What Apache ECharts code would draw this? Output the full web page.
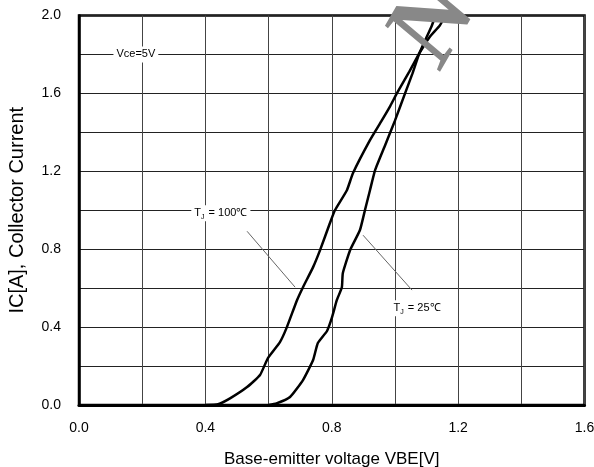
<!DOCTYPE html>
<html><head><meta charset="utf-8">
<script src="https://cdn.jsdelivr.net/npm/echarts@6/dist/echarts.min.js"></script>
<style>html,body{margin:0;padding:0;background:#fff}#c{width:594px;height:467px}</style>
</head><body><div id="c"></div>
<script>
var xTicks = [0, 0.4, 0.8, 1.2, 1.6];
var yTicks = [0, 0.4, 0.8, 1.2, 1.6, 2.0];
var tj100 = [[0.40,0],[0.44,0.004],[0.478,0.034],[0.532,0.092],[0.573,0.154],[0.598,0.241],[0.636,0.323],[0.658,0.40],[0.690,0.538],[0.709,0.605],[0.741,0.708],[0.763,0.795],[0.794,0.933],[0.810,1.0],[0.848,1.103],[0.867,1.19],[0.921,1.36],[0.958,1.46],[0.985,1.535],[1.006,1.6],[1.045,1.71],[1.077,1.805],[1.11,1.89],[1.142,1.949],[1.16,2.0]];
var tj25 = [[0.60,0],[0.625,0.008],[0.668,0.041],[0.709,0.128],[0.741,0.231],[0.756,0.318],[0.785,0.38],[0.801,0.451],[0.816,0.538],[0.832,0.605],[0.835,0.677],[0.858,0.795],[0.889,0.897],[0.905,1.0],[0.921,1.103],[0.937,1.205],[0.968,1.33],[1.0,1.46],[1.032,1.6],[1.055,1.70],[1.077,1.805],[1.117,1.949],[1.128,2.0]];
var seriesNames = ['TJ = 100℃', 'TJ = 25℃'];
var condition = 'Vce=5V';

var chart = echarts.init(document.getElementById('c'));
var F = '"Liberation Sans", Arial, sans-serif';
function lbl(v){ var r = Math.round(v*10); return (r % 4 === 0) ? v.toFixed(1) : ''; }
chart.setOption({
  animation: false,
  backgroundColor: '#fff',
  grid: {left: 79, right: 9.5, top: 15.5, bottom: 62, containLabel: false, outerBoundsMode: 'none', show: true, borderColor: '#000', borderWidth: 2.5, backgroundColor: 'transparent'},
  xAxis: {type: 'value', min: 0, max: 1.6, interval: 0.2,
    name: 'Base-emitter voltage VBE[V]', nameLocation: 'middle', nameGap: 46,
    nameTextStyle: {fontFamily: F, fontSize: 17, color: '#000'},
    axisLine: {show: true, onZero: false, lineStyle: {color: '#000', width: 3}},
    axisTick: {show: false},
    axisLabel: {formatter: lbl, fontFamily: F, fontSize: 14, color: '#000', margin: 16},
    splitLine: {show: true, lineStyle: {color: '#444', width: 1}}},
  yAxis: {type: 'value', min: 0, max: 2.0, interval: 0.2,
    name: 'IC[A], Collector Current', nameLocation: 'middle', nameGap: 52,
    nameTextStyle: {fontFamily: F, fontSize: 20, color: '#000'},
    axisLine: {show: true, lineStyle: {color: '#000', width: 2.5}},
    axisTick: {show: false},
    axisLabel: {formatter: lbl, fontFamily: F, fontSize: 14, color: '#000', margin: 18},
    splitLine: {show: true, lineStyle: {color: '#222', width: 1}}},
  series: [
    {name: seriesNames[0], type: 'line', data: tj100, showSymbol: false, smooth: 0.15, lineStyle: {color: '#000', width: 2.5}, z: 5},
    {name: seriesNames[1], type: 'line', data: tj25, showSymbol: false, smooth: 0.15, lineStyle: {color: '#000', width: 2.5}, z: 5}
  ]
});

function px(p){ return chart.convertToPixel({gridIndex: 0}, p); }
var rich = {n: {fontFamily: F, fontSize: 11, color: '#000', lineHeight: 14}, s: {fontFamily: F, fontSize: 7, color: '#000', verticalAlign: 'bottom', lineHeight: 10, padding: [4,1,0,0]}};
function label(text, p){
  var q = px(p);
  return {type: 'text', x: q[0], y: q[1], z: 20,
    style: {text: text, rich: rich, font: '11px ' + F, fill: '#000', align: 'center', verticalAlign: 'middle', backgroundColor: '#fff', padding: [1,3,1,3]}};
}
function leader(a, b){
  var p = px(a), q = px(b);
  return {type: 'line', z: 19, shape: {x1: p[0], y1: p[1], x2: q[0], y2: q[1]}, style: {stroke: '#666', lineWidth: 1}};
}
chart.setOption({graphic: [
  label('{n|' + condition + '}', [0.18, 1.8]),
  label('{n|T}{s|J}{n| = 100℃}', [0.449, 0.985]),
  label('{n|T}{s|J}{n| = 25℃}', [1.07, 0.497]),
  leader([0.532, 0.892], [0.684, 0.605]),
  leader([0.899, 0.872], [1.054, 0.590]),
  {type: 'text', x: 463, y: 84, z: 30, rotation: Math.PI/3,
    style: {text: 'No', font: 'italic bold 108px "Liberation Serif", serif', fill: '#888', align: 'left', verticalAlign: 'bottom'}}
]});
</script></body></html>
